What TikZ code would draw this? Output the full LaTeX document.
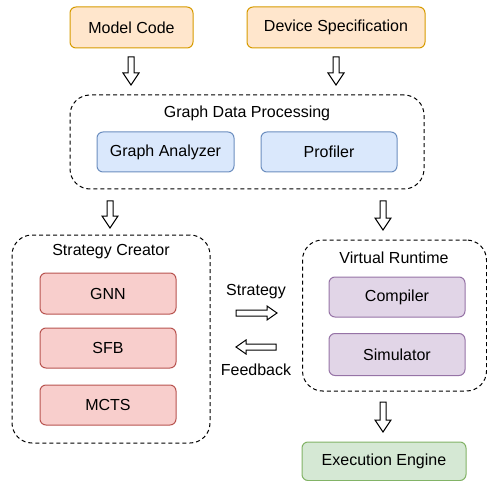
\documentclass[tikz,border=0pt]{standalone}
\usepackage{fontspec}
\setmainfont{Liberation Sans}
\usetikzlibrary{calc}
\definecolor{orfill}{HTML}{FFE6CC}\definecolor{ordraw}{HTML}{D79B00}
\definecolor{blfill}{HTML}{DAE8FC}\definecolor{bldraw}{HTML}{6C8EBF}
\definecolor{rdfill}{HTML}{F8CECC}\definecolor{rddraw}{HTML}{B85450}
\definecolor{pufill}{HTML}{E1D5E7}\definecolor{pudraw}{HTML}{9673A6}
\definecolor{grfill}{HTML}{D5E8D4}\definecolor{grdraw}{HTML}{82B366}
\tikzset{
  box/.style={draw, line width=1pt, rounded corners=6pt, inner sep=0pt, font=\fontsize{16}{19}\selectfont},
  orbox/.style={box, fill=orfill, draw=ordraw},
  blbox/.style={box, fill=blfill, draw=bldraw},
  rdbox/.style={box, fill=rdfill, draw=rddraw},
  pubox/.style={box, fill=pufill, draw=pudraw},
  grbox/.style={box, fill=grfill, draw=grdraw},
  group/.style={draw, line width=1pt, dash pattern=on 4pt off 3pt, rounded corners=20pt, inner sep=0pt},
  lbl/.style={font=\fontsize{16}{19}\selectfont, inner sep=0pt},
  blockarr/.style={draw, line width=1pt, fill=white, line join=miter}
}
\newcommand{\dnarrow}[3]{%
  \draw[blockarr] (#1-3,#2) -- (#1+3,#2) -- (#1+3,#3-12) -- (#1+8,#3-12) -- (#1,#3) -- (#1-8,#3-12) -- (#1-3,#3-12) -- cycle;}
\newcommand{\rtarrow}[3]{% y, xleft, xtip
  \draw[blockarr] (#2,#1-3) -- (#2,#1+3) -- (#3-10,#1+3) -- (#3-10,#1+7) -- (#3,#1) -- (#3-10,#1-7) -- (#3-10,#1-3) -- cycle;}
\newcommand{\ltarrow}[3]{% y, xtip, xright
  \draw[blockarr] (#3,#1-3) -- (#3,#1+3) -- (#2+10,#1+3) -- (#2+10,#1+7) -- (#2,#1) -- (#2+10,#1-7) -- (#2+10,#1-3) -- cycle;}
\begin{document}
\begin{tikzpicture}[x=1pt,y=-1pt]
\useasboundingbox (0,0) rectangle (487,481);
% top inputs
\node[orbox, minimum width=123pt, minimum height=41pt] (mc) at (131.5,27.5) {Model Code};
\node[orbox, minimum width=178pt, minimum height=41pt] (ds) at (336,27.5) {Device Specification};
% graph data processing
\node[group, minimum width=354pt, minimum height=94pt] (gdp) at (247,142) {};
\node[lbl] (gdpt) at (247,113) {Graph Data Processing};
\node[blbox, minimum width=137pt, minimum height=40pt] (ga) at (165.5,152) {Graph Analyzer};
\node[blbox, minimum width=136pt, minimum height=40pt] (pr) at (329,152) {Profiler};
% strategy creator
\node[group, minimum width=198pt, minimum height=208pt] (sc) at (111,339) {};
\node[lbl] (sct) at (111,252) {Strategy Creator};
\node[rdbox, minimum width=136pt, minimum height=41pt] (gnn) at (108,293.5) {GNN};
\node[rdbox, minimum width=136pt, minimum height=40pt] (sfb) at (108,348) {SFB};
\node[rdbox, minimum width=136pt, minimum height=40pt] (mcts) at (108,405) {MCTS};
% virtual runtime
\node[group, minimum width=184pt, minimum height=151pt] (vr) at (394.5,315.5) {};
\node[lbl] (vrt) at (394,258) {Virtual Runtime};
\node[pubox, minimum width=136pt, minimum height=40pt] (comp) at (397,297) {Compiler};
\node[pubox, minimum width=136pt, minimum height=42pt] (sim) at (397,354.5) {Simulator};
% execution engine
\node[grbox, minimum width=164pt, minimum height=38.5pt] (ee) at (384,461.25) {Execution Engine};
% labels
\node[lbl] (st) at (256,292) {Strategy};
\node[lbl] (fb) at (256,370) {Feedback};
% block arrows
\dnarrow{131}{57}{85}
\dnarrow{336}{57}{85}
\dnarrow{110}{201}{228}
\dnarrow{383}{201}{230}
\dnarrow{383}{402}{432}
\rtarrow{313}{236}{277}
\ltarrow{347}{236}{276}
\end{tikzpicture}
\end{document}
